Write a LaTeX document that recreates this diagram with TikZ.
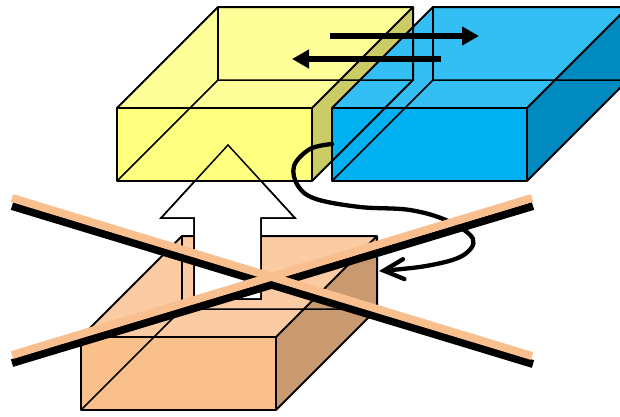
\documentclass[tikz,border=0pt]{standalone}
\usepackage{tikz}
\usetikzlibrary{arrows.meta}
\definecolor{ylwfront}{HTML}{FFFF80}
\definecolor{ylwtop}{HTML}{FFFF99}
\definecolor{ylwside}{HTML}{CCCC66}
\definecolor{bluefront}{HTML}{00B0F0}
\definecolor{bluetop}{HTML}{33BFF3}
\definecolor{blueside}{HTML}{008AC0}
\definecolor{orgfront}{HTML}{F9C08C}
\definecolor{orgtop}{HTML}{FBCBA3}
\definecolor{orgside}{HTML}{C99A70}
\definecolor{peach}{HTML}{F9BF8F}

\begin{document}
\begin{tikzpicture}[x=1pt,y=-1pt,
    edge/.style={line width=2pt, line join=round},
    hidden/.style={line width=1.5pt},
    move/.style={line width=6pt, -{Triangle[length=17pt,width=18pt]}}]

  \useasboundingbox (0,0) rectangle (620,416);
  \clip (0,0) rectangle (620,416);

  % -- slabs: front face 195 x 73, pushed back 101 up and right.
  %    Faces first, then every edge on top so the back edges show through.
  \foreach \x/\y/\col in {81/337/org}{
    \fill[\col top] (\x,\y) -- ++(101,-101) -- ++(195,0) -- ++(-101,101) -- cycle;
    \fill[\col side] (\x+195,\y) -- ++(101,-101) -- ++(0,73) -- ++(-101,101) -- cycle;
    \fill[\col front] (\x,\y) rectangle ++(195,73);
    \draw[hidden] (\x,\y+73) -- ++(101,-101) -- ++(195,0);
    \draw[hidden] (\x+101,\y-101) -- ++(0,73);
    \draw[edge] (\x,\y) rectangle ++(195,73);
    \draw[edge] (\x,\y) -- ++(101,-101) -- ++(195,0) -- ++(0,73) -- ++(-101,101);
    \draw[edge] (\x+195,\y) -- ++(101,-101);}

  % -- the lift arrow, white, sitting in the lower slab --
  \path[draw, fill=white, line width=1.5pt, line join=miter, save path=\liftarrow]
    (228,145) -- (295,218) -- (261,218) -- (261,299) -- (194,299)
    -- (194,218) -- (161,218) -- cycle;

  \foreach \x/\y/\col in {117/108/ylw, 332/108/blue}{
    \fill[\col top] (\x,\y) -- ++(101,-101) -- ++(195,0) -- ++(-101,101) -- cycle;
    \fill[\col side] (\x+195,\y) -- ++(101,-101) -- ++(0,73) -- ++(-101,101) -- cycle;
    \fill[\col front] (\x,\y) rectangle ++(195,73);}

  % arrow tip again, seen through the yellow front face
  \draw[line width=1.5pt, use path=\liftarrow];

  \foreach \x/\y in {117/108, 332/108}{
    \draw[hidden] (\x,\y+73) -- ++(101,-101) -- ++(195,0);
    \draw[hidden] (\x+101,\y-101) -- ++(0,73);
    \draw[edge] (\x,\y) rectangle ++(195,73);
    \draw[edge] (\x,\y) -- ++(101,-101) -- ++(195,0) -- ++(0,73) -- ++(-101,101);
    \draw[edge] (\x+195,\y) -- ++(101,-101);}

  % -- sliding arrows on the top slabs --
  \coordinate (right0) at (330,36);
  \coordinate (right1) at (479,36);
  \coordinate (left0) at (441,59);
  \coordinate (left1) at (292,59);
  \draw[move] (right0) -- (right1);
  \draw[move] (left0) -- (left1);

  % -- the loop from the blue slab round to the lower slab --
  \coordinate (loop0) at (332,144);
  \coordinate (loop1) at (379,271);
  \draw[line width=4.3pt, line cap=round,
        -{Straight Barb[length=20pt,width=20pt,line cap=round]}]
    plot[smooth, tension=0.6] coordinates {(loop0) (310,149) (294,166) (298,186)
      (316,199) (360,207) (410,210) (448,221) (473,239) (462,256) (426,266) (loop1)};

  % -- the cross: black shadows first, peach strokes over both --
  \foreach \ya/\yb in {198/356, 355/198}
    \draw[line width=8pt, black] (12,\ya+8) -- (533,\yb+8);
  \foreach \ya/\yb in {198/356, 355/198}
    \draw[line width=8pt, peach] (12,\ya) -- (532,\yb);
\end{tikzpicture}
\end{document}
